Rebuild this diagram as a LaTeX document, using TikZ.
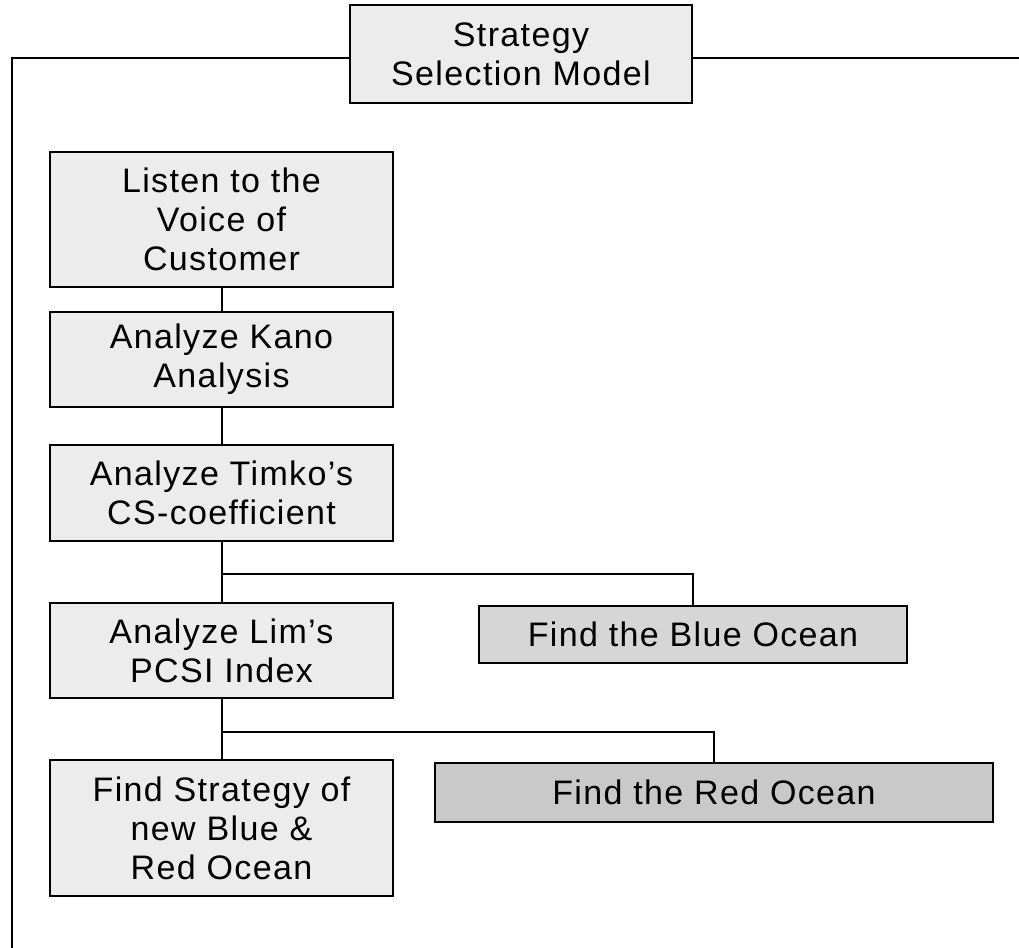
\documentclass[tikz,border=0pt]{standalone}
\usepackage{fontspec}
\setmainfont{Liberation Sans}[LetterSpace=4]
\begin{document}
\begin{tikzpicture}[x=0.5pt,y=-0.5pt,
  box/.style={draw=black, line width=1.4pt, fill=gray!15, font=\fontsize{17}{19.5}\selectfont, align=center, inner sep=0pt},
  bluebox/.style={box, fill=gray!32},
  redbox/.style={box, fill=gray!42},
  link/.style={draw=black, line width=1pt},
  frame/.style={draw=black, line width=1.1pt}]
\useasboundingbox (0,0) rectangle (1019,948);
% title and frame
\node[box, minimum width=171pt, minimum height=49pt] (title) at (521,54) {Strategy\\Selection Model};
\coordinate (fl) at (12,58);
\coordinate (fr) at (1019,58);
\coordinate (fb) at (12,948);
\draw[frame] (title.west |- fl) -- (fl) -- (fb);
\draw[frame] (title.east |- fr) -- (fr);
% main column
\node[box, minimum width=171.5pt, minimum height=67.5pt] (b1) at (221.5,219.5) {Listen to the\\Voice of\\Customer};
\node[box, minimum width=171.5pt, minimum height=47.5pt] (b2) at (221.5,359.5) {Analyze Kano\\Analysis};
\node[box, minimum width=171.5pt, minimum height=48pt] (b3) at (221.5,493) {Analyze Timko's\\CS-coefficient};
\node[box, minimum width=171.5pt, minimum height=47.5pt] (b4) at (221.5,650.5) {Analyze Lim's\\PCSI Index};
\node[box, minimum width=171.5pt, minimum height=68pt] (b5) at (221.5,828) {Find Strategy of\\new Blue \&\\Red Ocean};
% side boxes
\node[bluebox, minimum width=214pt, minimum height=28.5pt] (blue) at (693,634.5) {Find the Blue Ocean};
\node[redbox, minimum width=279pt, minimum height=29.5pt] (red) at (714,792.5) {Find the Red Ocean};
% connectors
\coordinate (j1) at (221.5,574);
\coordinate (j2) at (221.5,732);
\draw[link] (b1) -- (b2);
\draw[link] (b2) -- (b3);
\draw[link] (b3) -- (b4);
\draw[link] (b4) -- (b5);
\draw[link] (j1) -| (blue.north);
\draw[link] (j2) -| (red.north);
\end{tikzpicture}
\end{document}
